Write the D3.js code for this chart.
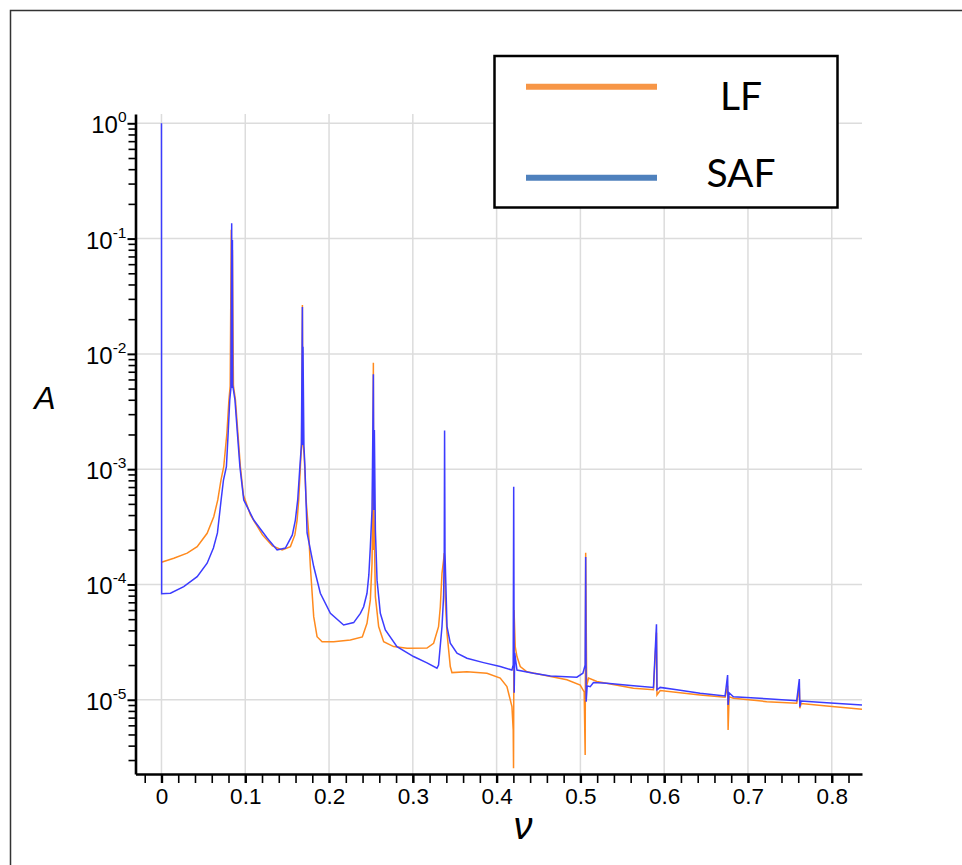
<!DOCTYPE html>
<html>
<head>
<meta charset="utf-8">
<script src="https://cdn.jsdelivr.net/npm/d3@7"></script>
<style>
  body { margin: 0; background: #fff; }
  svg { display: block; }
</style>
</head>
<body>
<svg id="chart" width="962" height="865"></svg>
<script>
// Spectrum: [nu, A]
const lfPoints = [
  [0, 1.56e-4], [0.0147, 1.69e-4], [0.0307, 1.87e-4], [0.0426, 2.13e-4], [0.0545, 2.78e-4],
  [0.0624, 3.87e-4], [0.0672, 5.41e-4], [0.0710, 8.05e-4], [0.0743, 1.05e-3], [0.0781, 2.06e-3],
  [0.0805, 3.98e-3], [0.0820, 5.27e-3], [0.0833, 0.119], [0.0838, 5.27e-3], [0.0847, 0.0796],
  [0.0859, 5.27e-3], [0.0883, 3.98e-3], [0.0912, 2.06e-3], [0.0942, 1.05e-3], [0.0978, 5.97e-4],
  [0.1062, 4.01e-4], [0.1205, 2.69e-4], [0.1324, 2.16e-4], [0.1440, 1.99e-4], [0.1539, 2.13e-4],
  [0.1592, 2.69e-4], [0.1619, 3.62e-4], [0.1638, 5.41e-4], [0.1658, 1.05e-3], [0.1673, 1.69e-3],
  [0.1682, 0.0265], [0.1688, 1.69e-3], [0.1703, 1.33e-3], [0.1726, 5.41e-4], [0.1757, 2.80e-4],
  [0.1777, 1.43e-4], [0.1817, 5.26e-5], [0.1857, 3.52e-5], [0.1917, 3.19e-5], [0.2055, 3.19e-5],
  [0.2254, 3.30e-5], [0.2397, 3.51e-5], [0.2453, 4.61e-5], [0.2493, 7.35e-5], [0.2513, 1.53e-4],
  [0.2520, 4.43e-4], [0.2529, 8.39e-3], [0.2532, 1.99e-4], [0.2536, 4.43e-4], [0.2553, 7.84e-5],
  [0.2592, 4.31e-5], [0.2652, 3.19e-5], [0.2771, 2.89e-5], [0.2931, 2.80e-5], [0.3169, 2.81e-5],
  [0.3248, 3.09e-5], [0.3307, 4.31e-5], [0.3328, 6.41e-5], [0.3348, 1.25e-4], [0.3367, 1.63e-4],
  [0.3375, 1.87e-4], [0.3388, 7.35e-5], [0.3408, 3.78e-5], [0.3447, 1.94e-5], [0.3467, 1.72e-5],
  [0.3646, 1.75e-5], [0.3885, 1.70e-5], [0.4043, 1.54e-5], [0.4123, 1.30e-5], [0.4183, 8.71e-6],
  [0.4198, 5.47e-6], [0.4202, 2.55e-6], [0.4208, 6.01e-5], [0.4222, 2.89e-5], [0.4243, 2.37e-5],
  [0.4282, 1.94e-5], [0.4362, 1.75e-5], [0.4839, 1.49e-5], [0.4998, 1.34e-5], [0.5045, 1.17e-5],
  [0.5057, 3.32e-6], [0.5063, 1.88e-4], [0.5075, 1.32e-5], [0.5097, 1.54e-5], [0.5197, 1.44e-5],
  [0.5633, 1.26e-5], [0.5872, 1.22e-5], [0.5908, 3.82e-5], [0.5914, 1.10e-5], [0.5952, 1.20e-5],
  [0.6429, 1.10e-5], [0.6727, 1.05e-5], [0.6757, 1.32e-5], [0.6763, 5.47e-6], [0.6775, 1.06e-5],
  [0.6826, 1.03e-5], [0.7224, 9.63e-6], [0.7582, 9.33e-6], [0.7613, 1.26e-5], [0.7619, 8.43e-6],
  [0.7634, 9.29e-6], [0.7940, 8.83e-6], [0.8361, 8.28e-6]
];

const safPoints = [
  [0, 1.0], [0.0002, 8.3e-5], [0.0107, 8.39e-5], [0.0266, 9.57e-5], [0.0426, 1.17e-4],
  [0.0545, 1.53e-4], [0.0620, 2.07e-4], [0.0668, 2.80e-4], [0.0712, 5.41e-4], [0.0740, 8.05e-4],
  [0.0775, 1.05e-3], [0.0796, 2.06e-3], [0.0815, 3.98e-3], [0.0829, 5.06e-3], [0.0838, 0.136],
  [0.0843, 5.06e-3], [0.0847, 0.0973], [0.0850, 5.37e-3], [0.0877, 3.98e-3], [0.0906, 2.06e-3],
  [0.0936, 1.05e-3], [0.0982, 5.41e-4], [0.1101, 3.62e-4], [0.1261, 2.53e-4], [0.1380, 1.99e-4],
  [0.1479, 2.07e-4], [0.1562, 2.69e-4], [0.1598, 3.62e-4], [0.1626, 5.41e-4], [0.1652, 1.05e-3],
  [0.1670, 1.62e-3], [0.1682, 0.0255], [0.1686, 1.62e-3], [0.1689, 0.0115], [0.1700, 1.62e-3],
  [0.1712, 1.05e-3], [0.1738, 2.80e-4], [0.1817, 1.43e-4], [0.1896, 8.39e-5], [0.2016, 5.62e-5],
  [0.2174, 4.45e-5], [0.2294, 4.67e-5], [0.2374, 5.62e-5], [0.2413, 6.41e-5], [0.2453, 8.39e-5],
  [0.2475, 1.21e-4], [0.2493, 2.13e-4], [0.2513, 4.43e-4], [0.2523, 2.19e-3], [0.2529, 6.65e-3],
  [0.2535, 4.43e-4], [0.2541, 2.19e-3], [0.2553, 2.97e-4], [0.2573, 1.09e-4], [0.2612, 5.62e-5],
  [0.2672, 4.03e-5], [0.2811, 2.89e-5], [0.3009, 2.37e-5], [0.3169, 2.09e-5], [0.3288, 1.88e-5],
  [0.3307, 2.00e-5], [0.3348, 4.31e-5], [0.3367, 7.84e-5], [0.3375, 1.87e-4], [0.3379, 2.16e-3],
  [0.3384, 1.87e-4], [0.3408, 4.31e-5], [0.3447, 3.09e-5], [0.3527, 2.53e-5], [0.3646, 2.29e-5],
  [0.3844, 2.10e-5], [0.4043, 1.94e-5], [0.4183, 1.81e-5], [0.4198, 2.0e-5], [0.4204, 7.05e-4],
  [0.4210, 1.15e-5], [0.4216, 2.55e-5], [0.4243, 1.81e-5], [0.4441, 1.70e-5], [0.4640, 1.61e-5],
  [0.4958, 1.57e-5], [0.5030, 1.70e-5], [0.5057, 2.0e-5], [0.5063, 1.73e-4], [0.5069, 9.63e-6],
  [0.5081, 1.32e-5], [0.5117, 1.30e-5], [0.5156, 1.41e-5], [0.5316, 1.39e-5], [0.5633, 1.32e-5],
  [0.5872, 1.28e-5], [0.5908, 4.52e-5], [0.5914, 1.22e-5], [0.5952, 1.28e-5], [0.6151, 1.22e-5],
  [0.6429, 1.14e-5], [0.6727, 1.08e-5], [0.6757, 1.64e-5], [0.6763, 9.01e-6], [0.6775, 1.15e-5],
  [0.6826, 1.06e-5], [0.7224, 1.02e-5], [0.7582, 9.82e-6], [0.7613, 1.51e-5], [0.7619, 8.71e-6],
  [0.7634, 9.77e-6], [0.7940, 9.44e-6], [0.8361, 9.01e-6]
];

const xMajor = [0, 0.1, 0.2, 0.3, 0.4, 0.5, 0.6, 0.7, 0.8];
const xMinor = d3.range(-0.02, 0.821, 0.02);
const yExponents = [0, -1, -2, -3, -4, -5];
const seriesNames = ['LF', 'SAF'];
const seriesColors = ['#ff8a1e', '#3c3cff'];
const legendColors = ['#f79646', '#4f81bd'];

const tickFont = '"Liberation Sans", Arimo, Arial, Helvetica, sans-serif';

const svg = d3.select('#chart');

// plot box (pixels)
const plotLeft = 135.5, plotRight = 862, plotTop = 114, plotBottom = 774;

const x = d3.scaleLinear().domain([-0.031, 0.8361]).range([plotLeft, plotRight]);
const y = d3.scaleLog().domain([2.27e-6, 1.204]).range([plotBottom, plotTop]);

// outer frame, only top and left edges show
svg.append('path')
  .attr('d', 'M10.5,865V10.5H962')
  .attr('fill', 'none')
  .attr('stroke', '#333')
  .attr('stroke-width', 1.5);

// grid
const grid = svg.append('g').attr('stroke', '#dcdcdc').attr('stroke-width', 1.5);
grid.selectAll('line.v')
  .data(xMajor)
  .enter()
  .append('line')
  .attr('class', 'v')
  .attr('x1', d => x(d))
  .attr('x2', d => x(d))
  .attr('y1', plotTop)
  .attr('y2', plotBottom);
grid.selectAll('line.h')
  .data(yExponents)
  .enter()
  .append('line')
  .attr('class', 'h')
  .attr('x1', plotLeft)
  .attr('x2', plotRight)
  .attr('y1', d => y(Math.pow(10, d)))
  .attr('y2', d => y(Math.pow(10, d)));

// curves
svg.append('clipPath')
  .attr('id', 'plotClip')
  .append('rect')
  .attr('x', plotLeft)
  .attr('y', plotTop)
  .attr('width', plotRight - plotLeft)
  .attr('height', plotBottom - plotTop);

const line = d3.line()
  .x(d => x(d[0]))
  .y(d => y(d[1]));

const plot = svg.append('g').attr('clip-path', 'url(#plotClip)');
[lfPoints, safPoints].forEach((pts, i) => {
  plot.append('path')
    .datum(pts)
    .attr('d', line)
    .attr('fill', 'none')
    .attr('stroke', seriesColors[i])
    .attr('stroke-width', 1.5);
});

// y axis minor ticks
const yMinor = [];
for (let e = -6; e <= 0; e++) {
  for (let m = 2; m <= 9; m++) {
    const v = m * Math.pow(10, e);
    if (v > 2.27e-6 && v < 1.204) yMinor.push(v);
  }
}

svg.append('g')
  .attr('transform', `translate(${plotLeft},0)`)
  .call(d3.axisLeft(y).tickValues(yMinor).tickSize(7).tickSizeOuter(0).tickFormat(''))
  .call(g => g.select('.domain').remove())
  .call(g => g.selectAll('.tick line').attr('stroke', '#000').attr('stroke-width', 1.6));

const yAxis = svg.append('g')
  .attr('transform', `translate(${plotLeft},0)`)
  .call(d3.axisLeft(y).tickValues(yExponents.map(e => Math.pow(10, e))).tickSize(8).tickSizeOuter(0).tickFormat(''))
  .attr('font-family', tickFont);
yAxis.select('.domain').attr('stroke', '#000').attr('stroke-width', 2.6);
yAxis.selectAll('.tick line').attr('stroke', '#000').attr('stroke-width', 2);
yAxis.selectAll('.tick text')
  .attr('x', -9)
  .attr('dy', null)
  .attr('y', 9.5)
  .attr('text-anchor', 'end')
  .attr('fill', '#000')
  .attr('font-family', tickFont)
  .each(function(d) {
    const t = d3.select(this);
    t.append('tspan').attr('font-size', 24).text('10');
    t.append('tspan')
      .attr('font-size', 15.5)
      .attr('dy', -11)
      .text(Math.round(Math.log10(d)));
  });

// x axis
svg.append('g')
  .attr('transform', `translate(0,${plotBottom})`)
  .call(d3.axisBottom(x).tickValues(xMinor).tickSize(9).tickSizeOuter(0).tickFormat(''))
  .call(g => g.select('.domain').remove())
  .call(g => g.selectAll('.tick line').attr('stroke', '#000').attr('stroke-width', 1.6));

const xAxis = svg.append('g')
  .attr('transform', `translate(0,${plotBottom})`)
  .call(d3.axisBottom(x).tickValues(xMajor).tickSize(9).tickSizeOuter(0).tickPadding(5)
    .tickFormat(d => (d === 0 ? '0' : d3.format('.1f')(d))))
  .attr('font-family', tickFont);
xAxis.select('.domain').attr('stroke', '#000').attr('stroke-width', 2.6);
xAxis.selectAll('.tick line').attr('stroke', '#000').attr('stroke-width', 2.4);
xAxis.selectAll('.tick text')
  .attr('font-family', tickFont)
  .attr('font-size', 22.5)
  .attr('fill', '#000');

// axis titles
svg.append('text')
  .attr('x', 45)
  .attr('y', 409)
  .attr('text-anchor', 'middle')
  .attr('font-family', tickFont)
  .attr('font-style', 'italic')
  .attr('font-size', 32)
  .text('A');

svg.append('text')
  .attr('x', 523)
  .attr('y', 839)
  .attr('text-anchor', 'middle')
  .attr('font-family', tickFont)
  .attr('font-style', 'italic')
  .attr('font-size', 38)
  .text('ν');

// legend
const legend = svg.append('g');
legend.append('rect')
  .attr('x', 494.5)
  .attr('y', 56)
  .attr('width', 343)
  .attr('height', 151.5)
  .attr('fill', '#fff')
  .attr('stroke', '#000')
  .attr('stroke-width', 2.5);

const legendRows = [86.7, 177.7];
seriesNames.forEach((name, i) => {
  legend.append('line')
    .attr('x1', 526)
    .attr('x2', 657)
    .attr('y1', legendRows[i])
    .attr('y2', legendRows[i])
    .attr('stroke', legendColors[i])
    .attr('stroke-width', 6);
  legend.append('text')
    .attr('x', 741)
    .attr('y', legendRows[i] + (i === 0 ? 23.5 : 9))
    .attr('text-anchor', 'middle')
    .attr('font-family', 'Lato, "Open Sans", sans-serif')
    .attr('font-size', 39)
    .text(name);
});
</script>
</body>
</html>
